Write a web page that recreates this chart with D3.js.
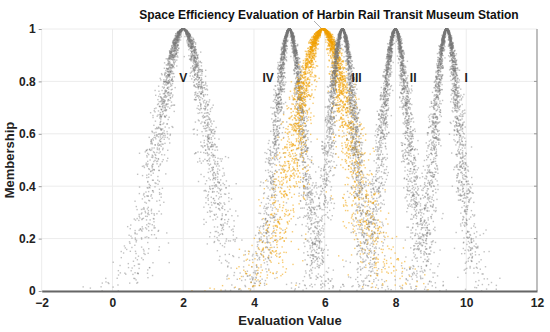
<!DOCTYPE html>
<html><head><meta charset="utf-8">
<script src="https://cdn.jsdelivr.net/npm/d3@7"></script>
<style>body{margin:0;background:#fff}svg{display:block}text{font-family:Arial,"Liberation Sans",sans-serif;font-weight:bold}</style>
</head><body>
<svg id="c" width="550" height="332"></svg>
<script>
// Cloud-model numeric characteristics
const cloudNames = ["V", "IV", "III", "II", "I", "Station"];
const cloudEx = [2.0, 5.0, 6.5, 8.0, 9.45, 5.95];
const cloudEn = [0.67, 0.38, 0.36, 0.37, 0.36, 0.76];
const cloudHe = [0.15, 0.09, 0.09, 0.09, 0.09, 0.19];
const cloudDrops = [2200, 2200, 2200, 2200, 2200, 3000];
const cloudColor = ["#777", "#777", "#777", "#777", "#777", "#f0a000"];
const labelNames = ["V", "IV", "III", "II", "I"];
const labelX = [2.0, 4.4, 6.9, 8.5, 10.0];
const labelY = [0.8, 0.8, 0.8, 0.8, 0.8];
const xTicks = [-2, 0, 2, 4, 6, 8, 10, 12];
const yTicks = [0, 0.2, 0.4, 0.6, 0.8, 1];

const svg = d3.select("#c");
const x = d3.scaleLinear().domain([-2, 12]).range([41.7, 537]);
const y = d3.scaleLinear().domain([0, 1]).range([291, 29]);

// grid
svg.append("g").selectAll("line").data(xTicks).join("line")
  .attr("x1", d => x(d)).attr("x2", d => x(d)).attr("y1", y(0)).attr("y2", y(1))
  .attr("stroke", "#ececec").attr("stroke-width", 1);
svg.append("g").selectAll("line").data(yTicks).join("line")
  .attr("x1", x(-2)).attr("x2", x(12)).attr("y1", d => y(d)).attr("y2", d => y(d))
  .attr("stroke", "#ececec").attr("stroke-width", 1);

// deterministic cloud-drop generator (forward normal cloud)
let seed = 12345;
function rnd() { seed = (seed * 1664525 + 1013904223) >>> 0; return seed / 4294967296; }
function gauss(m, s) { let u = 0; while (u === 0) u = rnd(); const v = rnd(); return m + s * Math.sqrt(-2 * Math.log(u)) * Math.cos(2 * Math.PI * v); }

const order = [0, 1, 3, 4, 5, 2];
order.forEach(i => {
  const drops = [];
  for (let k = 0; k < cloudDrops[i]; k++) {
    const en = gauss(cloudEn[i], cloudHe[i]);
    const xv = gauss(cloudEx[i], Math.abs(en));
    const yv = Math.exp(-((xv - cloudEx[i]) ** 2) / (2 * en * en));
    drops.push([xv, yv]);
  }
  svg.append("g").selectAll("rect").data(drops).join("rect")
    .attr("x", d => x(d[0]) - 0.7).attr("y", d => y(d[1]) - 0.7)
    .attr("width", 1.4).attr("height", 1.4)
    .attr("fill", cloudColor[i]).attr("opacity", i === 5 ? 0.55 : 0.45);
});

// axes frame
svg.append("line").attr("x1", x(12)).attr("x2", x(12)).attr("y1", y(1)).attr("y2", y(0))
  .attr("stroke", "#9a9a9a").attr("stroke-width", 1.2);
const xa = svg.append("g").attr("transform", `translate(0,${y(0)})`)
  .call(d3.axisBottom(x).tickValues(xTicks).tickSize(0).tickPadding(7).tickFormat(d3.format("d")));
xa.select(".domain").attr("stroke", "#666").attr("stroke-width", 2);
xa.selectAll("text").attr("font-size", 12).attr("fill", "#222");
const ya = svg.append("g").attr("transform", `translate(${x(-2)},0)`)
  .call(d3.axisLeft(y).tickValues(yTicks).tickSize(3).tickPadding(3).tickFormat(d => d));
ya.select(".domain").remove();
ya.selectAll("line").attr("stroke", "#999");
ya.selectAll("text").attr("font-size", 12).attr("fill", "#222");
svg.append("g").selectAll("line").data(yTicks.slice(1, 5)).join("line")
  .attr("x1", x(12) - 3).attr("x2", x(12)).attr("y1", d => y(d)).attr("y2", d => y(d))
  .attr("stroke", "#999");

// labels
svg.append("g").selectAll("text").data(labelNames).join("text")
  .attr("x", (d, i) => x(labelX[i])).attr("y", (d, i) => y(labelY[i]) + 1)
  .attr("text-anchor", "middle").attr("font-size", 12).attr("fill", "#222").text(d => d);

// annotation leader
svg.append("line").attr("x1", 314).attr("y1", 21).attr("x2", x(cloudEx[5]) - 2).attr("y2", y(1) - 1)
  .attr("stroke", "#999").attr("stroke-width", 0.8);

svg.append("text").attr("x", 329).attr("y", 19).attr("text-anchor", "middle")
  .attr("font-size", 12).attr("fill", "#111").text("Space Efficiency Evaluation of Harbin Rail Transit Museum Station");
svg.append("text").attr("x", 290).attr("y", 325).attr("text-anchor", "middle")
  .attr("font-size", 13).attr("fill", "#222").text("Evaluation Value");
svg.append("text").attr("transform", `translate(14,${y(0.5)}) rotate(-90)`).attr("text-anchor", "middle")
  .attr("font-size", 13).attr("fill", "#222").text("Membership");
</script>
</body></html>
